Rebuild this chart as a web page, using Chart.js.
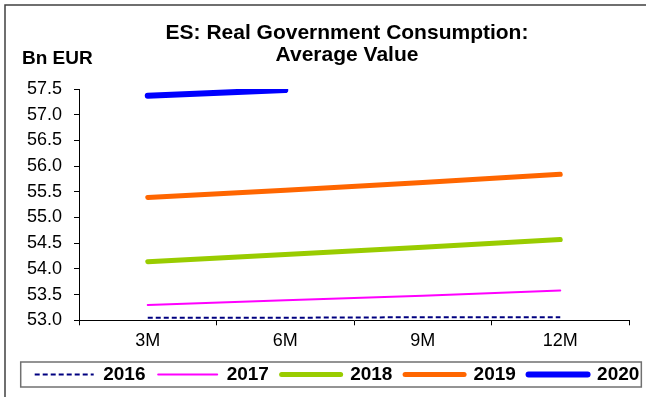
<!DOCTYPE html>
<html>
<head>
<meta charset="utf-8">
<script src="https://cdn.jsdelivr.net/npm/chart.js@4"></script>
<style>
  html, body { margin: 0; padding: 0; background: #fff; }
  #wrap { width: 646px; height: 397px; }
</style>
</head>
<body>
<div id="wrap"><canvas id="myChart"></canvas></div>
<script>
const categories = ["3M", "6M", "9M", "12M"]
const years = ["2016", "2017", "2018", "2019", "2020"]
const v2016 = [53.05, 53.05, 53.06, 53.06]
const v2017 = [53.30, 53.39, 53.48, 53.58]
const v2018 = [54.14, 54.28, 54.42, 54.57]
const v2019 = [55.39, 55.53, 55.68, 55.84]
const v2020 = [57.37, 57.48]
const yMin = 53.0, yMax = 57.5, yStep = 0.5
const titleLines = ["ES: Real Government Consumption:", "Average Value"]
const unitLabel = "Bn EUR"

Chart.defaults.font.family = "'Liberation Sans', Arial, sans-serif"
Chart.defaults.color = "#000"

// title, unit label, frame and legend box
const decor = {
  id: "decor",
  afterLayout(chart) {
    // push the legend row right so it starts where the original one does
    chart.legend.left += 22
    chart.legend.right += 22
  },
  afterDraw(chart) {
    const c = chart.ctx
    c.save()
    c.fillStyle = "#000"
    c.textAlign = "center"
    c.textBaseline = "middle"
    c.font = "bold 21px 'Liberation Sans', Arial, sans-serif"
    c.fillText(titleLines[0], 347, 33)
    c.fillText(titleLines[1], 347, 55)
    c.textAlign = "left"
    c.font = "bold 19px 'Liberation Sans', Arial, sans-serif"
    c.fillText(unitLabel, 22, 59)

    c.strokeStyle = "#404040"
    c.lineWidth = 1.5
    c.beginPath()
    c.moveTo(5, 397)
    c.lineTo(5, 5)
    c.lineTo(646, 5)
    c.stroke()

    const hb = chart.legend.legendHitBoxes
    if (hb && hb.length) {
      const l = hb[0].left - 14
      const r = Math.min(hb[hb.length - 1].left + hb[hb.length - 1].width + 2, 642)
      const t = hb[0].top - 3
      c.strokeStyle = "#707070"
      c.strokeRect(l, t, r - l, hb[0].height + 6)
    }
    c.restore()
  }
}

const mk = (label, data, color, width, dash) => ({
  label: label,
  data: data,
  borderColor: color,
  backgroundColor: color,
  borderWidth: width,
  borderDash: dash || [],
  borderCapStyle: dash ? "butt" : "round",
  pointRadius: 0,
  pointHoverRadius: 0,
  tension: 0,
  fill: false
})

const data = {
  labels: categories,
  datasets: [
    mk(years[0], v2016, "#000080", 2, [5, 3]),
    mk(years[1], v2017, "#ff00ff", 2),
    mk(years[2], v2018, "#99cc00", 5),
    mk(years[3], v2019, "#ff6600", 5),
    mk(years[4], v2020, "#0000ff", 6)
  ]
}

// legend lines take dash and cap from the dataset line, not from its points
const legendLabels = chart => {
  const items = Chart.defaults.plugins.legend.labels.generateLabels(chart)
  items.forEach(it => {
    const ds = chart.data.datasets[it.datasetIndex]
    it.lineDash = ds.borderDash
    it.lineCap = ds.borderCapStyle
    it.lineWidth = ds.borderWidth
  })
  return items
}

const options = {
  responsive: true,
  maintainAspectRatio: false,
  animation: false,
  layout: { padding: { left: 0, right: 0, top: 89, bottom: 3 } },
  plugins: {
    title: { display: false },
    tooltip: { enabled: false },
    legend: {
      position: "bottom",
      align: "start",
      labels: {
        usePointStyle: true,
        pointStyle: "line",
        pointStyleWidth: 59,
        padding: 12.7,
        color: "#000",
        font: { size: 19, weight: "bold" },
        generateLabels: legendLabels
      }
    }
  },
  scales: {
    x: {
      offset: true,
      grid: { offset: true, drawOnChartArea: false, drawTicks: true, tickLength: 5, color: "#000", lineWidth: 1 },
      border: { color: "#000", width: 1 },
      ticks: { padding: 5, font: { size: 18 }, color: "#000", maxRotation: 0 },
      afterFit: s => { s.height = 32 }
    },
    y: {
      min: yMin,
      max: yMax,
      grid: { drawOnChartArea: false, drawTicks: true, tickLength: 5, color: "#000", lineWidth: 1 },
      border: { color: "#000", width: 1 },
      ticks: { stepSize: yStep, autoSkip: false, padding: 12, font: { size: 18 }, color: "#000", callback: v => v.toFixed(1) },
      afterFit: s => { s.width = 79 }
    },
    // empty right gutter so the plot stops at the same place as the original
    gutter: {
      type: "linear",
      position: "right",
      grid: { display: false },
      border: { display: false },
      ticks: { display: false },
      afterFit: s => { s.width = 17 }
    }
  }
}

const config = {
  type: "line",
  data: data,
  options: options,
  plugins: [decor]
}

const chart = new Chart(document.querySelector("#myChart"), config)
</script>
</body>
</html>
